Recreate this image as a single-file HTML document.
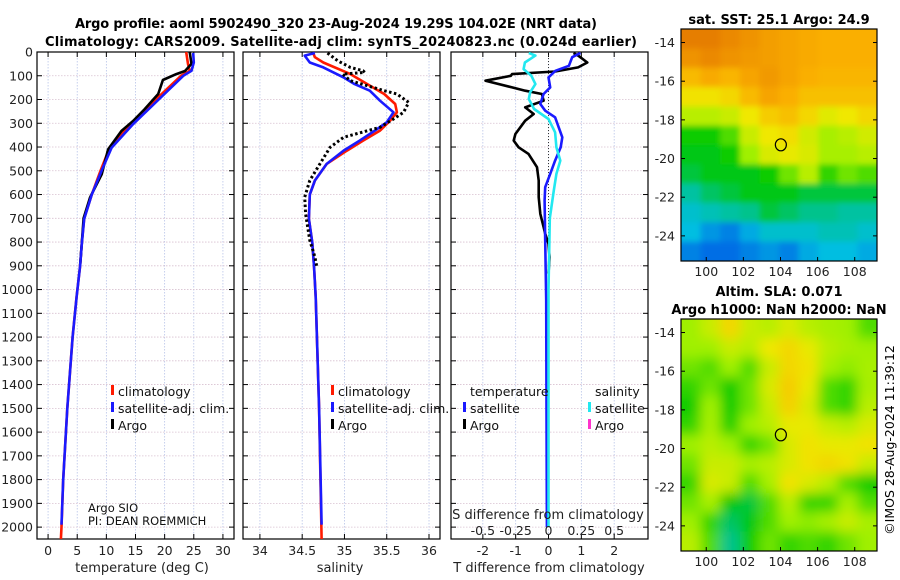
<!DOCTYPE html>
<html><head><meta charset="utf-8"><style>
html,body{margin:0;padding:0;background:#fff;}
svg{display:block;font-family:"DejaVu Sans","Liberation Sans",sans-serif;}
</style></head><body>
<svg id="fig" width="900" height="580" viewBox="0 0 900 580">
<defs>
<clipPath id="c1"><rect x="37" y="52" width="197" height="487"/></clipPath>
<clipPath id="c2"><rect x="243" y="52" width="197" height="487"/></clipPath>
<clipPath id="c3"><rect x="451" y="52" width="197" height="487"/></clipPath>
<clipPath id="cm1"><rect x="681" y="29" width="196" height="232"/></clipPath>
<clipPath id="cm2"><rect x="681" y="319" width="196" height="232"/></clipPath>
<filter id="bl1"><feGaussianBlur stdDeviation="3"/></filter>
<filter id="bl2"><feGaussianBlur stdDeviation="6"/></filter>
</defs>
<text x="336" y="28" font-size="13" font-weight="bold" text-anchor="middle" textLength="522">Argo profile: aoml 5902490_320 23-Aug-2024 19.29S 104.02E (NRT data)</text>
<text x="341" y="46" font-size="13" font-weight="bold" text-anchor="middle" textLength="592">Climatology: CARS2009. Satellite-adj clim: synTS_20240823.nc (0.024d earlier)</text>
<text x="779" y="24" font-size="13" font-weight="bold" text-anchor="middle">sat. SST: 25.1 Argo: 24.9</text>
<text x="779" y="296" font-size="13" font-weight="bold" text-anchor="middle">Altim. SLA: 0.071</text>
<text x="779" y="314" font-size="13" font-weight="bold" text-anchor="middle">Argo h1000: NaN h2000: NaN</text>
<text transform="translate(894,440) rotate(-90)" font-size="12.5" text-anchor="middle">©IMOS 28-Aug-2024 11:39:12</text>
<g id="root"></g>
</svg>
<script>
// ---- data (depth in m) ----
const tClimDepth = [0,50,80,100,200,300,400,500,600,700,800,900,1030,1200,1500,1800,2000,2050];
const tClimVal   = [23.7,24.0,24.3,22.8,18.5,14.3,10.6,9.0,7.5,6.2,5.8,5.5,4.9,4.2,3.3,2.6,2.3,2.2];
const tSatDepth  = [4,44,79,100,202,303,403,499,600,702,803,901,1031,1200,1500,1800,1990];
const tSatVal    = [24.9,25.0,24.6,23.2,18.9,14.6,10.9,9.2,7.5,6.2,5.8,5.5,4.9,4.2,3.3,2.6,2.3];
const tArgoDepth = [0,50,80,93,118,177,240,290,332,410,515,613,700,800,900];
const tArgoVal   = [24.3,24.6,23.5,22.0,19.7,18.9,16.6,14.6,12.6,10.3,9.2,7.2,6.1,5.8,5.5];
const sClimDepth = [4,22,44,93,135,177,219,254,289,331,373,415,471,541,600,702,803,901,1031,1500,2050];
const sClimVal   = [34.63,34.65,34.75,35.07,35.27,35.47,35.60,35.62,35.54,35.42,35.22,35.03,34.79,34.65,34.59,34.58,34.62,34.64,34.66,34.70,34.73];
const sSatDepth  = [4,15,44,65,107,135,163,205,254,296,331,373,415,471,541,600,702,803,901,1031,1500,1990];
const sSatVal    = [34.65,34.53,34.59,34.75,34.99,35.12,35.30,35.42,35.58,35.50,35.36,35.18,34.99,34.79,34.65,34.59,34.58,34.62,34.64,34.66,34.70,34.73];
const sArgoDepth = [4,37,65,79,86,93,121,163,177,212,254,282,317,359,401,471,541,611,681,793,863,900];
const sArgoVal   = [34.80,34.92,35.07,35.22,35.24,34.98,35.07,35.47,35.62,35.76,35.70,35.58,35.42,34.99,34.83,34.71,34.59,34.53,34.54,34.59,34.65,34.67];
const dTArgoDepth = [4,15,44,65,82,93,100,121,149,163,177,205,233,261,289,345,373,401,429,485,541,611,681,737,765,807,863,933];
const dTArgoVal   = [0.76,0.9,1.18,0.9,0.2,-1.11,-1.15,-1.92,-1.11,-0.71,-0.2,-0.15,-0.71,-0.45,-0.71,-1.01,-1.06,-0.91,-0.61,-0.35,-0.3,-0.3,-0.25,-0.15,-0.1,0.0,0.03,0.0];
const dTSatDepth  = [4,22,58,79,107,149,177,219,247,275,317,359,401,457,513,569,625,793,1045,1500,2000];
const dTSatVal    = [0.97,0.72,0.62,0.21,0.0,0.05,-0.15,-0.25,-0.1,0.2,0.31,0.42,0.37,0.2,0.05,-0.1,-0.12,-0.1,-0.07,-0.06,-0.05];
const dSSatDepth  = [4,15,44,72,100,135,170,198,240,282,338,401,457,513,583,700,1000,1500,2000];
const dSSatVal    = [-0.15,-0.10,-0.18,-0.19,-0.13,-0.10,-0.14,-0.15,-0.11,0.0,0.05,0.06,0.09,0.06,0.04,0.01,0.0,0.0,0.0];
const depthTicks = [0,100,200,300,400,500,600,700,800,900,1000,1100,1200,1300,1400,1500,1600,1700,1800,1900,2000];
const tTicks = [0,5,10,15,20,25,30];
const sTicks = [34,34.5,35,35.5,36];
const dTTicks = [-2,-1,0,1,2];
const dSTicks = [-0.5,-0.25,0,0.25,0.5];
const dSTickLabels = ["-0.5","-0.25","0","0.25","0.5"];
const lonTicks = [100,102,104,106,108];
const latTicks = [-14,-16,-18,-20,-22,-24];
const floatLon = 104.02, floatLat = -19.29;
const sstGrid = [
[0.84,0.84,0.82,0.80,0.78,0.77,0.76,0.75,0.75,0.75],
[0.80,0.82,0.80,0.79,0.78,0.77,0.76,0.75,0.75,0.75],
[0.73,0.76,0.74,0.77,0.79,0.77,0.75,0.74,0.74,0.74],
[0.66,0.66,0.68,0.73,0.77,0.75,0.72,0.72,0.72,0.72],
[0.58,0.58,0.60,0.65,0.70,0.72,0.68,0.63,0.65,0.68],
[0.46,0.46,0.50,0.60,0.65,0.67,0.61,0.56,0.58,0.61],
[0.44,0.44,0.46,0.55,0.62,0.64,0.62,0.56,0.56,0.58],
[0.42,0.44,0.44,0.44,0.46,0.52,0.58,0.48,0.52,0.50],
[0.36,0.40,0.42,0.44,0.44,0.44,0.42,0.42,0.42,0.42],
[0.32,0.34,0.36,0.38,0.42,0.40,0.38,0.38,0.36,0.36],
[0.30,0.26,0.24,0.28,0.32,0.32,0.32,0.34,0.34,0.32],
[0.24,0.22,0.22,0.24,0.26,0.24,0.28,0.30,0.30,0.28]];
const slaGrid = [
[0.55,0.60,0.68,0.60,0.58,0.62,0.58,0.56,0.55,0.50],
[0.55,0.55,0.60,0.58,0.65,0.68,0.64,0.58,0.56,0.55],
[0.52,0.50,0.55,0.50,0.60,0.68,0.66,0.56,0.54,0.56],
[0.48,0.52,0.46,0.52,0.62,0.70,0.64,0.50,0.48,0.56],
[0.46,0.55,0.46,0.52,0.60,0.69,0.62,0.50,0.48,0.58],
[0.48,0.56,0.47,0.55,0.58,0.64,0.64,0.60,0.58,0.62],
[0.55,0.58,0.55,0.48,0.52,0.62,0.66,0.64,0.64,0.66],
[0.52,0.60,0.60,0.56,0.58,0.62,0.66,0.68,0.66,0.60],
[0.48,0.62,0.60,0.50,0.56,0.66,0.62,0.58,0.50,0.46],
[0.52,0.56,0.45,0.42,0.50,0.58,0.48,0.48,0.56,0.50],
[0.55,0.48,0.40,0.44,0.50,0.55,0.54,0.56,0.60,0.56],
[0.58,0.50,0.38,0.46,0.52,0.48,0.50,0.48,0.52,0.55]];

// ---- helpers ----
const NS="http://www.w3.org/2000/svg";
const root=document.getElementById('root');
function mk(tag,attrs,parent){const e=document.createElementNS(NS,tag);for(const k in attrs)e.setAttribute(k,attrs[k]);(parent||root).appendChild(e);return e;}
const Y0=52, Y1=539, DMAX=2050;
function yD(d){return Y0+(d/DMAX)*(Y1-Y0);}
function lin(d0,d1,r0,r1){return v=>r0+(v-d0)/(d1-d0)*(r1-r0);}
const xT=lin(-1.9,31.9,37,234);
const xS=lin(33.8,36.13,243,440);
const xDT=lin(-2.97,3.03,451,648);
const xDS=v=>xDT(v*4);

function panel(L,R,xf,ticks,labels,clip,name){
  const g=mk('g',{});
  
  
  for(const t of ticks){const x=xf(t);const l=mk('line',{x1:x,x2:x,y1:Y0,y2:Y1,stroke:'#b8c4e8','stroke-width':0.8,'stroke-dasharray':'1.5 1.5'},g);
    
    }
  for(const d of depthTicks){const y=yD(d);const l=mk('line',{x1:L,x2:R,y1:y,y2:y,stroke:'#d8c0d0','stroke-width':0.8,'stroke-dasharray':'1.5 1.5'},g);
    
    
    mk('line',{x1:L,x2:L+5,y1:y,y2:y,stroke:'#000'},g);mk('line',{x1:R-5,x2:R,y1:y,y2:y,stroke:'#000'},g);}
  ticks.forEach((t,i)=>{const x=xf(t);mk('line',{x1:x,x2:x,y1:Y1,y2:Y1-5,stroke:'#000'},g);mk('line',{x1:x,x2:x,y1:Y0,y2:Y0+5,stroke:'#000'},g);
    const tx=mk('text',{x:x,y:555,'font-size':12.5,'text-anchor':'middle',fill:'#222'},g);tx.textContent=labels[i];
    
    });
  const fr=mk('rect',{x:L,y:Y0,width:R-L,height:Y1-Y0,fill:'none',stroke:'#000','stroke-width':1.2},g);
  
  
  return g;
}
function series(depths,vals,xf,color,clip,name,opts){
  const pts=depths.map((d,i)=>xf(vals[i]).toFixed(1)+','+yD(d).toFixed(1)).join(' ');
  const p=mk('polyline',Object.assign({points:pts,fill:'none',stroke:color,'stroke-width':2.6,'stroke-linejoin':'round','clip-path':'url(#'+clip+')'},opts||{}));
  
  
}
function txt(x,y,s,name,opts){const t=mk('text',Object.assign({x:x,y:y,'font-size':12.5,fill:'#111'},opts||{}));t.textContent=s;
  
  return t;}
function legItem(x,y,color,label,name){
  const m=mk('rect',{x:x,y:y-11,width:3,height:10,fill:color});
  
  
  txt(x+7,y,label,name);
}

// y tick labels
for(const d of depthTicks){txt(33,yD(d)+4.5,String(d),'y-tick-label',{'text-anchor':'end',fill:'#222'});}

// panel 1 temperature
panel(37,234,xT,tTicks,tTicks.map(String),'c1','temperature-panel');
series(tClimDepth,tClimVal,xT,'#ff1a00','c1','temp-climatology-line');
series(tArgoDepth,tArgoVal,xT,'#000','c1','temp-argo-line');
series(tSatDepth,tSatVal,xT,'#1a1aff','c1','temp-satellite-line');
txt(142,572,'temperature (deg C)','temperature-axis-title',{'text-anchor':'middle','font-size':13,fill:'#222'});
legItem(111,396,'#ff1a00','climatology','legend-climatology');
legItem(111,413,'#1a1aff','satellite-adj. clim.','legend-satellite-adj');
legItem(111,430,'#000','Argo','legend-argo');
txt(88,512,'Argo SIO','argo-sio-label',{'font-size':11.5});
txt(88,525,'PI: DEAN ROEMMICH','pi-label',{'font-size':11.5});

// panel 2 salinity
panel(243,440,xS,sTicks,sTicks.map(String),'c2','salinity-panel');
series(sClimDepth,sClimVal,xS,'#ff1a00','c2','sal-climatology-line');
series(sSatDepth,sSatVal,xS,'#1a1aff','c2','sal-satellite-line');
series(sArgoDepth,sArgoVal,xS,'#000','c2','sal-argo-line',{'stroke-dasharray':'2.5 2.5','stroke-width':3});
txt(340,572,'salinity','salinity-axis-title',{'text-anchor':'middle','font-size':13,fill:'#222'});
legItem(331,396,'#ff1a00','climatology','legend-climatology-2');
legItem(331,413,'#1a1aff','satellite-adj. clim.','legend-satellite-adj-2');
legItem(331,430,'#000','Argo','legend-argo-2');

// panel 3 differences
panel(451,648,xDT,dTTicks,dTTicks.map(String),'c3','difference-panel');
const zl=mk('line',{x1:xDT(0),x2:xDT(0),y1:Y0,y2:yD(900),stroke:'#333','stroke-width':1,'stroke-dasharray':'1 2'});


series(dTArgoDepth,dTArgoVal,xDT,'#000','c3','dT-argo-line');
series(dTSatDepth,dTSatVal,xDT,'#1a1aff','c3','dT-satellite-line');
series(dSSatDepth,dSSatVal,xDS,'#22e8f0','c3','dS-satellite-line');
dSTicks.forEach((t,i)=>{txt(xDS(t),535,dSTickLabels[i],'s-tick-label',{'text-anchor':'middle',fill:'#222'});});
txt(548,519,'S difference from climatology','s-axis-title',{'text-anchor':'middle','font-size':13,fill:'#222'});
txt(549,572,'T difference from climatology','t-axis-title',{'text-anchor':'middle','font-size':13,fill:'#222'});
txt(470,396,'temperature','legend-temperature-header');
legItem(463,413,'#1a1aff','satellite','legend-t-satellite');
legItem(463,430,'#000','Argo','legend-t-argo');
txt(595,396,'salinity','legend-salinity-header');
legItem(588,413,'#22e8f0','satellite','legend-s-satellite');
legItem(588,430,'#ff33cc','Argo','legend-s-argo');

// ---- maps ----
const cstops=[[0.0,[0,0,150]],[0.2,[0,90,230]],[0.3,[0,190,225]],[0.38,[0,195,140]],[0.45,[0,200,0]],[0.55,[160,240,0]],[0.65,[240,232,0]],[0.75,[250,175,0]],[0.85,[228,120,0]],[1,[200,60,0]]];
function cmap(v){for(let i=1;i<cstops.length;i++){if(v<=cstops[i][0]){const a=cstops[i-1],b=cstops[i];const f=(v-a[0])/(b[0]-a[0]);
  const c=a[1].map((x,k)=>Math.round(x+(b[1][k]-x)*f));return 'rgb('+c.join(',')+')';}}return 'rgb(200,60,0)';}
const lonL=98.64, lonR=109.2, latT=-13.3, latB=-25.3;
function mapBlock(top,grid,clip,name,blur){
  const L=681,R=877,B=top+232;
  const xL=lin(lonL,lonR,L,R), yL=lin(latT,latB,top,B);
  const g=mk('g',{});
  
  
  const bg=mk('g',{'clip-path':'url(#'+clip+')'},g);
  const inner=mk('g',{filter:'url(#'+blur+')'},bg);
  const nr=grid.length,nc=grid[0].length,cw=(R-L)/nc,ch=(B-top)/nr;
  for(let r=-1;r<=nr;r++)for(let c=-1;c<=nc;c++){const rr=Math.min(nr-1,Math.max(0,r)),cc=Math.min(nc-1,Math.max(0,c));
    const cell=mk('rect',{x:L+c*cw,y:top+r*ch,width:cw+0.6,height:ch+0.6,fill:cmap(grid[rr][cc])},inner);
    
    }
  const circ=mk('ellipse',{cx:xL(floatLon),cy:yL(floatLat),rx:5.5,ry:6,fill:'none',stroke:'#000','stroke-width':1.2},g);
  
  
  const fr=mk('rect',{x:L,y:top,width:R-L,height:B-top,fill:'none',stroke:'#000','stroke-width':1.2},g);
  
  
  for(const la of latTicks){const y=yL(la);mk('line',{x1:R,x2:R-4,y1:y,y2:y,stroke:'#000'},g);mk('line',{x1:L,x2:L+4,y1:y,y2:y,stroke:'#000'},g);
    txt(675,y+4.5,String(la),'lat-tick-label',{'text-anchor':'end',fill:'#222'});}
  for(const lo of lonTicks){const x=xL(lo);mk('line',{x1:x,x2:x,y1:B,y2:B-4,stroke:'#000'},g);
    txt(x,B+15,String(lo),'lon-tick-label',{'text-anchor':'middle',fill:'#222'});}
}
mapBlock(29,sstGrid,'cm1','sst-map','bl1');
mapBlock(319,slaGrid,'cm2','sla-map','bl2');
</script>
</body></html>
